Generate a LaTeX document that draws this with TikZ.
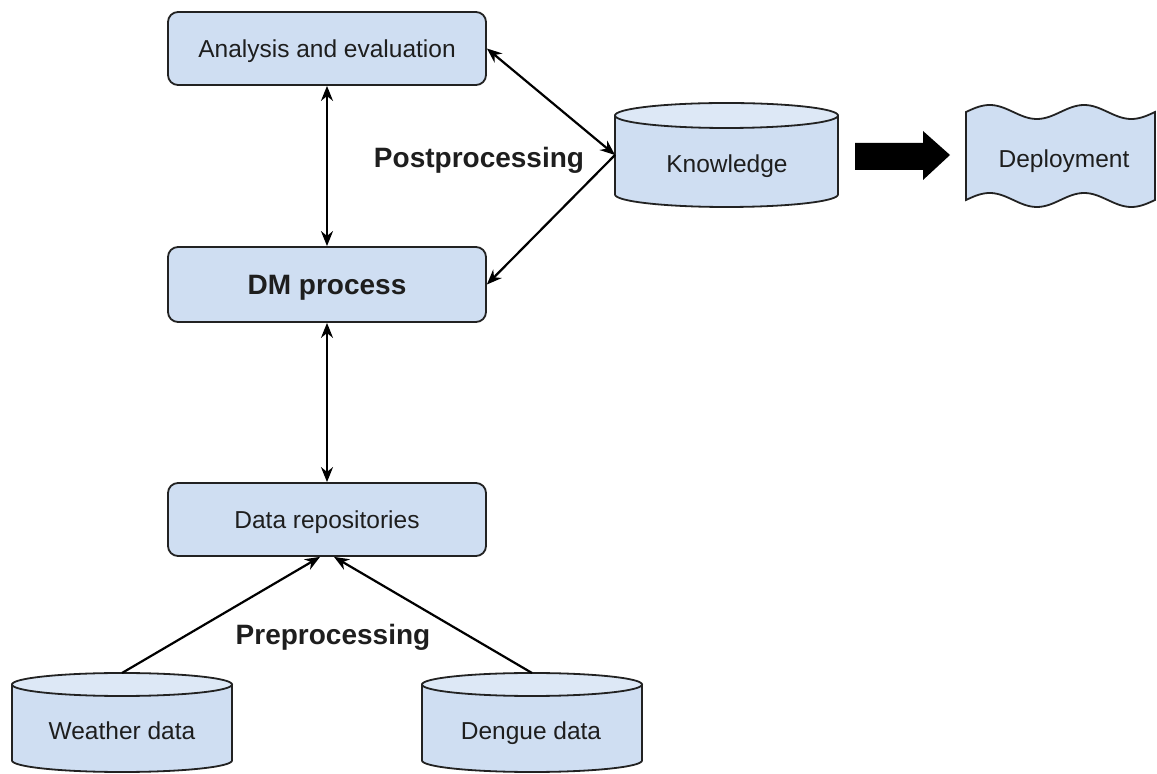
\documentclass[tikz,border=0pt]{standalone}
\usepackage{fontspec}
\setmainfont{Liberation Sans}
\usetikzlibrary{arrows.meta}
\definecolor{bodyblue}{HTML}{CFDEF2}
\definecolor{topblue}{HTML}{DDE8F6}
\definecolor{edge}{HTML}{222222}
\definecolor{txt}{HTML}{1E1E1E}
\newcommand\drawcyl[5]{%
  \filldraw[fill=bodyblue,draw=edge,line width=1.8pt]
    ({#1-#4},{#2-#5}) -- ({#1-#4},{#3+#5})
    arc[start angle=180,end angle=360,x radius=#4,y radius=#5]
    -- ({#1+#4},{#2-#5}) -- cycle;
  \filldraw[fill=topblue,draw=edge,line width=1.8pt]
    (#1,{#2-#5}) ellipse[x radius=#4,y radius=#5];
}
\tikzset{
  x=1pt,y=1pt,
  box/.style={draw=edge,fill=bodyblue,line width=1.8pt,rounded corners=10pt,
    minimum width=318pt,inner sep=0pt},
  shapeholder/.style={inner sep=0pt,outer sep=0pt},
  normtext/.style={text=txt,font=\fontsize{24.5}{29}\selectfont,inner sep=0pt,
    text height=24pt,text depth=5pt},
  boldtext/.style={text=txt,font=\fontsize{28}{33}\selectfont\bfseries,inner sep=0pt,
    text height=27pt,text depth=6pt},
  conn/.style={line width=2.2pt,draw=black},
  tipa/.tip={Stealth[length=15pt,width=12pt]},
}
\begin{document}
\begin{tikzpicture}
\useasboundingbox (0,0) rectangle (1157,774);
% rectangular boxes
\node[box,minimum height=73pt,normtext] (ana) at (327,725.5) {Analysis and evaluation};
\node[box,minimum height=75pt,boldtext] (dm) at (327,489.5) {DM process};
\node[box,minimum height=73pt,normtext] (repo) at (327,254.5) {Data repositories};
% cylinders
\drawcyl{726.5}{671}{567}{111.5}{12.5}
\node[shapeholder,minimum width=223pt,minimum height=104pt] (know) at (726.5,619) {};
\node[normtext] (knowt) at (727,611) {Knowledge};
\drawcyl{122}{101}{2}{110}{11.5}
\node[shapeholder,minimum width=220pt,minimum height=99pt] (wea) at (122,51.5) {};
\node[normtext] (weat) at (122,44) {Weather data};
\drawcyl{532}{101}{2}{110}{11.5}
\node[shapeholder,minimum width=220pt,minimum height=99pt] (den) at (532,51.5) {};
\node[normtext] (dent) at (531,44) {Dengue data};
% deployment (wavy document)
\filldraw[fill=bodyblue,draw=edge,line width=1.8pt]
  plot[domain=966:1155,samples=80,smooth] (\x,{662+7*sin((\x-966)*3.8095)})
  -- plot[domain=1155:966,samples=80,smooth] (\x,{574+7*sin((\x-966)*3.8095)})
  -- cycle;
\node[normtext] (dep) at (1064,616) {Deployment};
% block arrow knowledge -> deployment
\fill[black] (855,604) -- (923,604) -- (923,594) -- (950,619) -- (923,643)
  -- (923,631) -- (855,631) -- cycle;
% labels
\node[boldtext] (post) at (479,617) {Postprocessing};
\node[boldtext] (pre) at (333,140) {Preprocessing};
% connectors
\draw[conn,{tipa}-{tipa}] (ana.south) -- (dm.north);
\draw[conn,{tipa}-{tipa}] (dm.south) -- (repo.north);
\draw[conn,{tipa}-{tipa}] (ana.east) -- (know.west);
\draw[conn,-{tipa}] (know.west) -- (dm.east);
\draw[conn,-{tipa}] (wea.north) -- ([xshift=-7pt]repo.south);
\draw[conn,-{tipa}] (den.north) -- ([xshift=7pt]repo.south);
\end{tikzpicture}
\end{document}
